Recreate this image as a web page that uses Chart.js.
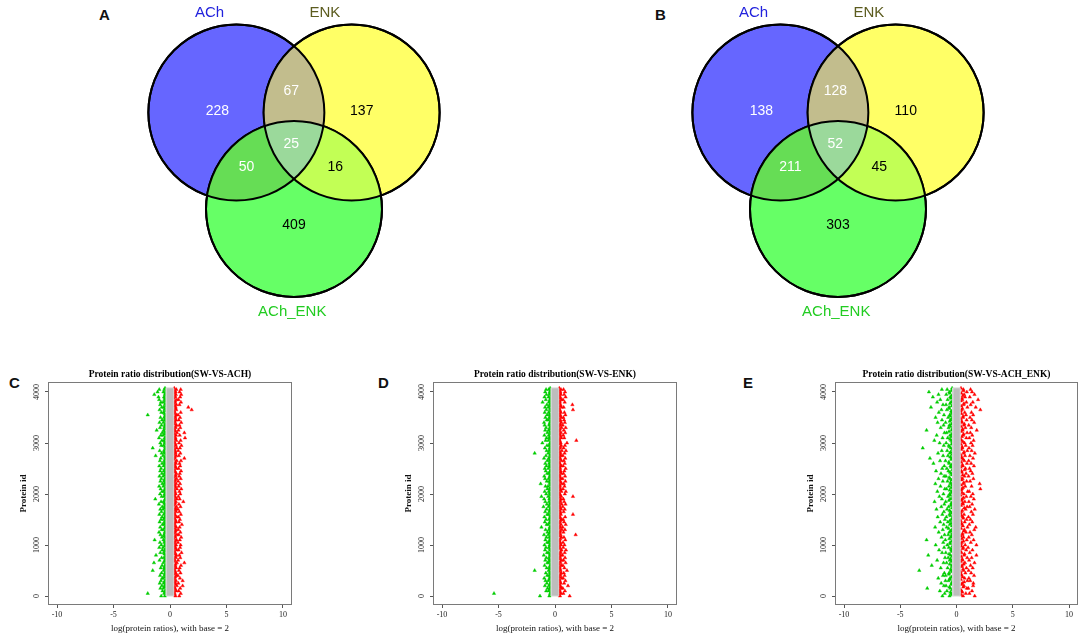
<!DOCTYPE html>
<html><head><meta charset="utf-8">
<script src="https://cdn.jsdelivr.net/npm/chart.js@4.4.1/dist/chart.umd.min.js"></script>
<style>
html,body{margin:0;padding:0;background:#fff}
body{width:1084px;height:640px;overflow:hidden;position:relative;font-family:"Liberation Sans",Arial,sans-serif}
.box{position:absolute}
.lab{position:absolute;font-weight:bold;font-size:15px;line-height:15px;color:#111}
</style></head>
<body>
<div class="lab" style="left:99px;top:7px">A</div>
<div class="lab" style="left:655px;top:7px">B</div>
<div class="lab" style="left:9px;top:375px">C</div>
<div class="lab" style="left:378px;top:375px">D</div>
<div class="lab" style="left:743px;top:375px">E</div>
<div class="box" style="left:104px;top:0;width:380px;height:330px"><canvas id="vennA"></canvas></div>
<div class="box" style="left:648px;top:0;width:380px;height:330px"><canvas id="vennB"></canvas></div>
<div class="box" style="left:0;top:360px;width:360px;height:280px"><canvas id="scC"></canvas></div>
<div class="box" style="left:360px;top:360px;width:360px;height:280px"><canvas id="scD"></canvas></div>
<div class="box" style="left:720px;top:360px;width:364px;height:280px"><canvas id="scE"></canvas></div>
<script>
// ---------------- Venn data ----------------
const setNames = ['ACh', 'ENK', 'ACh_ENK'];
const setCenterX = [-0.655, 0.655, 0.0];
const setCenterY = [0.365, 0.365, -0.73];
const setRadius = [1, 1, 1];
// regions: ACh only, ACh&ENK, ENK only, all three, ACh&ACh_ENK, ENK&ACh_ENK, ACh_ENK only
const countsA = [228, 67, 137, 25, 50, 16, 409];
const countsB = [138, 128, 110, 52, 211, 45, 303];

// ---------------- Scatter data ----------------
const proteinIds = [0,50,100,150,200,250,300,350,400,450,500,550,600,650,700,750,800,850,900,950,1000,1050,1100,1150,1200,1250,1300,1350,1400,1450,1500,1550,1600,1650,1700,1750,1800,1850,1900,1950,2000,2050,2100,2150,2200,2250,2300,2350,2400,2450,2500,2550,2600,2650,2700,2750,2800,2850,2900,2950,3000,3050,3100,3150,3200,3250,3300,3350,3400,3450,3500,3550,3600,3650,3700,3750,3800,3850,3900,3950,4000,4050];
const proteinIdsMid = [25,75,125,175,225,275,325,375,425,475,525,575,625,675,725,775,825,875,925,975,1025,1075,1125,1175,1225,1275,1325,1375,1425,1475,1525,1575,1625,1675,1725,1775,1825,1875,1925,1975,2025,2075,2125,2175,2225,2275,2325,2375,2425,2475,2525,2575,2625,2675,2725,2775,2825,2875,2925,2975,3025,3075,3125,3175,3225,3275,3325,3375,3425,3475,3525,3575,3625,3675,3725,3775,3825,3875,3925,3975,4025,4075];
const xTicks = [-10, -5, 0, 5, 10];
const yTicks = [0, 1000, 2000, 3000, 4000];
const bandLow = -0.33, bandHigh = 0.33, bandIdMax = 4080;

// SW-VS-ACH
const achDownEdge = [
-0.38,-0.44,-0.36,-0.47,-0.40,-0.50,-0.37,-0.43,-0.46,-0.39,
-0.42,-0.48,-0.36,-0.45,-0.41,-0.38,-0.49,-0.43,-0.37,-0.46,
-0.40,-0.44,-0.38,-0.50,-0.42,-0.36,-0.47,-0.39,-0.45,-0.41,
-0.48,-0.37,-0.43,-0.40,-0.46,-0.38,-0.50,-0.42,-0.36,-0.44,
-0.39,-0.47,-0.41,-0.37,-0.45,-0.49,-0.38,-0.43,-0.40,-0.46,
-0.36,-0.42,-0.48,-0.39,-0.44,-0.37,-0.50,-0.41,-0.45,-0.38,
-0.47,-0.40,-0.36,-0.43,-0.49,-0.39,-0.46,-0.42,-0.37,-0.44,
-0.41,-0.48,-0.38,-0.45,-0.36,-0.43,-0.40,-0.47,-0.39,-0.42,
-0.37,-0.44];
const achDownInner = [
-0.45,-0.52,-0.41,-0.58,-0.47,-0.55,-0.43,-0.61,-0.49,-0.44,
-0.57,-0.50,-0.42,-0.59,-0.46,-0.53,-0.40,-0.56,-0.48,-0.62,
-0.44,-0.51,-0.58,-0.43,-0.54,-0.47,-0.60,-0.41,-0.52,-0.49,
-0.57,-0.45,-0.55,-0.42,-0.61,-0.50,-0.46,-0.58,-0.43,-0.53,
-0.48,-0.56,-0.41,-0.59,-0.47,-0.52,-0.44,-0.60,-0.49,-0.55,
-0.42,-0.57,-0.46,-0.51,-0.43,-0.62,-0.48,-0.54,-0.40,-0.58,
-0.45,-0.53,-0.47,-0.60,-0.42,-0.56,-0.50,-0.44,-0.59,-0.46,
-0.52,-0.41,-0.57,-0.49,-0.55,-0.43,-0.61,-0.47,-0.53,-0.45,
-0.58,-0.50];
const achDownOuter = [
-0.78,-1.97,-0.66,-0.85,-0.72,-0.91,-0.80,-0.69,-0.88,-0.75,
-1.53,-0.82,-0.70,-1.42,-0.93,-0.74,-1.24,-0.86,-0.68,-0.95,
-0.77,-0.89,-1.36,-0.71,-0.84,-0.97,-0.73,-0.87,-0.67,-0.92,
-0.80,-0.70,-0.94,-0.76,-0.86,-0.69,-0.98,-0.79,-1.30,-0.74,
-0.88,-0.71,-0.83,-0.96,-0.68,-0.85,-0.77,-0.93,-0.72,-0.87,
-0.79,-0.95,-0.70,-0.89,-0.82,-1.27,-0.74,-0.91,-1.53,-0.78,
-0.86,-0.72,-0.97,-0.81,-0.69,-1.18,-0.88,-0.75,-0.93,-0.70,
-0.84,-1.97,-0.77,-0.92,-0.73,-0.87,-0.80,-0.96,-1.02,-1.39,
-1.10,-0.95];
const achUpEdge = [
0.40,0.36,0.45,0.38,0.48,0.42,0.37,0.46,0.39,0.44,
0.36,0.43,0.49,0.40,0.37,0.47,0.41,0.38,0.45,0.42,
0.39,0.46,0.36,0.44,0.40,0.48,0.37,0.43,0.41,0.50,
0.38,0.45,0.39,0.42,0.47,0.36,0.44,0.40,0.48,0.37,
0.43,0.39,0.46,0.41,0.36,0.45,0.38,0.49,0.42,0.37,
0.44,0.40,0.47,0.36,0.43,0.39,0.46,0.41,0.38,0.48,
0.37,0.45,0.42,0.39,0.44,0.36,0.47,0.40,0.43,0.38,
0.46,0.41,0.37,0.48,0.42,0.39,0.45,0.36,0.44,0.40,
0.43,0.38];
const achUpInner = [
0.48,0.41,0.56,0.44,0.60,0.47,0.53,0.40,0.58,0.50,
0.43,0.55,0.46,0.61,0.42,0.52,0.57,0.45,0.59,0.49,
0.54,0.41,0.58,0.47,0.62,0.44,0.51,0.56,0.40,0.53,
0.46,0.60,0.43,0.55,0.49,0.57,0.42,0.52,0.59,0.45,
0.50,0.44,0.61,0.47,0.54,0.41,0.58,0.48,0.56,0.43,
0.57,0.46,0.52,0.60,0.42,0.55,0.49,0.44,0.59,0.51,
0.41,0.56,0.48,0.53,0.62,0.45,0.50,0.58,0.43,0.54,
0.47,0.59,0.42,0.55,0.50,0.57,0.44,0.61,0.46,0.52,
0.49,0.56];
const achUpOuter = [
0.82,0.95,0.77,0.90,1.12,0.74,1.12,0.88,0.70,0.93,
0.79,0.86,0.97,1.27,0.72,0.91,0.83,1.02,0.76,0.89,
0.94,0.71,0.87,0.99,0.78,0.92,0.73,0.85,1.05,0.80,
0.88,0.75,0.96,0.82,0.70,0.93,0.79,1.18,0.86,0.74,
0.91,0.83,1.00,0.77,0.89,0.72,0.95,0.81,0.87,0.98,
0.76,0.90,0.84,0.97,1.27,0.79,0.92,0.73,0.88,1.01,
0.80,0.94,1.33,0.86,1.27,0.75,0.91,0.83,0.99,0.78,
0.89,0.72,0.95,1.92,1.62,0.84,0.97,0.76,0.90,0.99,
0.85,0.95];

// SW-VS-ENK
const enkDownEdge = [
-0.41,-0.37,-0.46,-0.39,-0.44,-0.36,-0.48,-0.42,-0.38,-0.45,
-0.40,-0.47,-0.37,-0.43,-0.49,-0.39,-0.44,-0.36,-0.46,-0.41,
-0.38,-0.45,-0.42,-0.37,-0.48,-0.40,-0.43,-0.36,-0.47,-0.39,
-0.44,-0.41,-0.37,-0.46,-0.38,-0.50,-0.42,-0.36,-0.45,-0.40,
-0.47,-0.38,-0.43,-0.39,-0.46,-0.37,-0.44,-0.41,-0.48,-0.36,
-0.42,-0.45,-0.38,-0.49,-0.40,-0.43,-0.37,-0.46,-0.39,-0.44,
-0.36,-0.41,-0.47,-0.38,-0.45,-0.42,-0.37,-0.48,-0.40,-0.43,
-0.39,-0.46,-0.36,-0.44,-0.41,-0.38,-0.47,-0.42,-0.37,-0.45,
-0.40,-0.43];
const enkDownInner = [
-0.50,-0.43,-0.57,-0.46,-0.54,-0.40,-0.59,-0.48,-0.52,-0.44,
-0.56,-0.47,-0.41,-0.58,-0.49,-0.53,-0.45,-0.60,-0.42,-0.55,
-0.48,-0.57,-0.44,-0.51,-0.59,-0.43,-0.54,-0.47,-0.61,-0.46,
-0.52,-0.41,-0.58,-0.49,-0.45,-0.56,-0.42,-0.53,-0.50,-0.60,
-0.44,-0.55,-0.47,-0.62,-0.43,-0.51,-0.57,-0.46,-0.54,-0.41,
-0.59,-0.48,-0.52,-0.45,-0.56,-0.42,-0.60,-0.50,-0.47,-0.53,
-0.43,-0.58,-0.49,-0.55,-0.41,-0.57,-0.46,-0.52,-0.44,-0.61,
-0.51,-0.45,-0.56,-0.42,-0.59,-0.48,-0.54,-0.43,-0.57,-0.50,
-0.47,-0.55];
const enkDownOuter = [
-1.33,-5.40,-0.78,-0.66,-0.89,-0.72,-0.84,-0.95,-0.69,-0.81,
-1.80,-0.74,-0.92,-0.68,-0.86,-0.77,-0.99,-0.71,-0.88,-0.80,
-0.93,-0.70,-0.85,-0.76,-0.97,-0.67,-0.83,-1.20,-0.74,-0.90,
-0.79,-0.94,-0.69,-0.87,-0.75,-1.02,-0.72,-0.86,-0.96,-1.20,
-0.78,-0.91,-0.68,-0.84,-1.27,-0.73,-0.88,-0.95,-0.70,-0.82,
-0.90,-0.76,-0.86,-0.69,-0.97,-0.80,-1.80,-0.74,-0.89,-0.71,
-1.12,-0.83,-0.75,-0.94,-0.68,-0.87,-0.79,-0.92,-0.97,-0.73,
-0.85,-0.70,-0.91,-0.77,-0.88,-0.72,-1.10,-0.81,-0.93,-0.76,
-0.87,-0.79];
const enkUpEdge = [
0.37,0.43,0.40,0.47,0.36,0.44,0.39,0.42,0.48,0.38,
0.45,0.41,0.37,0.46,0.40,0.43,0.36,0.49,0.42,0.39,
0.44,0.38,0.47,0.41,0.36,0.45,0.40,0.43,0.37,0.48,
0.42,0.39,0.46,0.36,0.44,0.41,0.38,0.47,0.40,0.43,
0.37,0.45,0.39,0.42,0.48,0.36,0.44,0.40,0.46,0.38,
0.41,0.47,0.37,0.43,0.39,0.45,0.42,0.36,0.48,0.40,
0.44,0.38,0.46,0.41,0.37,0.43,0.39,0.47,0.42,0.36,
0.45,0.40,0.44,0.38,0.46,0.37,0.41,0.43,0.39,0.47,
0.42,0.38];
const enkUpInner = [
0.44,0.53,0.40,0.57,0.47,0.51,0.42,0.59,0.46,0.55,
0.49,0.41,0.56,0.45,0.60,0.43,0.52,0.48,0.58,0.42,
0.54,0.47,0.40,0.57,0.50,0.44,0.61,0.46,0.53,0.41,
0.58,0.43,0.52,0.48,0.55,0.40,0.59,0.45,0.51,0.56,
0.42,0.57,0.49,0.44,0.60,0.47,0.53,0.41,0.56,0.50,
0.46,0.54,0.41,0.58,0.45,0.52,0.48,0.61,0.43,0.55,
0.50,0.42,0.57,0.47,0.53,0.40,0.59,0.44,0.56,0.48,
0.55,0.46,0.52,0.41,0.58,0.49,0.43,0.57,0.45,0.51,
0.47,0.53];
const enkUpOuter = [
1.30,0.74,0.88,0.69,1.15,0.81,0.92,0.72,0.85,0.78,
1.06,0.83,0.70,0.94,0.76,0.89,0.67,0.86,0.97,0.73,
0.84,0.71,0.91,0.79,1.83,0.75,0.88,0.68,0.95,0.80,
0.72,0.90,1.59,0.77,0.86,0.69,0.93,0.81,0.74,1.59,
0.87,0.96,0.71,0.84,0.78,0.92,0.68,0.89,0.75,0.83,
0.94,0.72,0.86,0.79,0.91,0.70,0.85,0.97,0.76,0.88,
1.06,1.89,0.82,0.73,0.90,0.78,0.95,0.69,0.87,0.80,
0.74,0.92,0.83,1.59,0.77,1.54,0.86,0.71,0.94,0.81,
0.89,0.76];

// SW-VS-ACH_ENK
const bothDownEdge = [
-0.42,-0.55,-0.38,-0.63,-0.47,-0.36,-0.58,-0.44,-0.68,-0.40,
-0.51,-0.37,-0.60,-0.45,-0.53,-0.39,-0.66,-0.43,-0.49,-0.36,
-0.57,-0.41,-0.64,-0.46,-0.38,-0.52,-0.70,-0.40,-0.48,-0.59,
-0.37,-0.54,-0.43,-0.62,-0.39,-0.50,-0.45,-0.67,-0.36,-0.56,
-0.41,-0.61,-0.47,-0.38,-0.53,-0.44,-0.65,-0.40,-0.58,-0.37,
-0.49,-0.42,-0.69,-0.46,-0.55,-0.39,-0.51,-0.36,-0.63,-0.44,
-0.38,-0.57,-0.48,-0.41,-0.66,-0.37,-0.52,-0.45,-0.60,-0.40,
-0.54,-0.39,-0.47,-0.64,-0.42,-0.58,-0.36,-0.50,-0.43,-0.61,
-0.46,-0.39];
const bothDownInner = [
-0.62,-0.48,-0.85,-0.55,-0.93,-0.44,-0.71,-0.58,-0.97,-0.66,
-0.50,-0.79,-0.42,-0.88,-0.60,-0.74,-0.53,-0.95,-0.46,-0.68,
-0.82,-0.57,-0.99,-0.49,-0.73,-0.64,-0.41,-0.87,-0.59,-0.77,
-0.45,-0.90,-0.63,-0.52,-0.84,-0.70,-0.47,-0.96,-0.56,-0.75,
-0.61,-0.43,-0.89,-0.67,-0.51,-0.80,-0.58,-0.94,-0.48,-0.72,
-0.86,-0.54,-0.65,-0.98,-0.44,-0.76,-0.60,-0.83,-0.50,-0.69,
-0.92,-0.47,-0.78,-0.57,-0.88,-0.42,-0.70,-0.63,-0.97,-0.53,
-0.74,-0.60,-0.45,-0.85,-0.66,-0.93,-0.49,-0.79,-0.56,-0.91,
-0.64,-0.83];
const bothDownOuter = [
-1.25,-1.05,-1.48,-2.60,-1.12,-1.36,-0.98,-1.62,-1.20,-1.08,
-3.31,-1.40,-2.20,-1.15,-1.72,-1.02,-2.51,-1.28,-1.55,-1.10,
-1.85,-1.18,-2.66,-1.33,-1.06,-1.58,-1.22,-1.90,-1.14,-1.45,
-1.03,-1.67,-1.26,-1.12,-1.78,-1.35,-1.08,-1.95,-1.30,-1.52,
-1.16,-1.70,-1.04,-1.42,-1.88,-1.21,-1.60,-1.10,-1.38,-1.82,
-1.27,-1.09,-2.05,-1.46,-2.36,-1.19,-1.64,-1.31,-3.00,-1.13,
-1.50,-1.97,-1.24,-1.76,-1.07,-2.66,-1.40,-1.15,-1.68,-1.29,
-1.86,-1.11,-1.57,-1.34,-2.27,-1.20,-1.72,-1.44,-2.10,-1.60,
-2.45,-1.30];
const bothUpEdge = [
0.40,0.52,0.37,0.61,0.45,0.68,0.39,0.55,0.43,0.36,
0.58,0.47,0.64,0.38,0.50,0.42,0.71,0.36,0.56,0.44,
0.39,0.62,0.48,0.37,0.53,0.66,0.41,0.57,0.45,0.38,
0.60,0.43,0.36,0.51,0.69,0.40,0.54,0.46,0.63,0.37,
0.49,0.42,0.58,0.39,0.65,0.44,0.36,0.55,0.47,0.72,
0.38,0.52,0.41,0.60,0.45,0.37,0.67,0.43,0.50,0.39,
0.57,0.36,0.48,0.63,0.42,0.54,0.40,0.70,0.46,0.38,
0.59,0.44,0.37,0.53,0.41,0.66,0.39,0.49,0.56,0.43,
0.62,0.40];
const bothUpInner = [
0.58,0.83,0.45,0.92,0.66,0.51,0.97,0.72,0.42,0.79,
0.63,0.88,0.49,0.75,0.55,0.95,0.68,0.44,0.86,0.60,
0.77,0.47,0.91,0.62,0.53,0.84,0.70,0.98,0.46,0.73,
0.89,0.56,0.67,0.43,0.81,0.94,0.59,0.74,0.50,0.87,
0.65,0.99,0.48,0.78,0.61,0.90,0.54,0.71,0.85,0.44,
0.80,0.57,0.93,0.69,0.47,0.76,0.64,0.96,0.52,0.82,
0.71,0.45,0.87,0.60,0.94,0.55,0.79,0.66,0.49,0.90,
0.58,0.84,0.73,0.46,0.97,0.63,0.88,0.51,0.76,0.68,
0.92,0.61];
const bothUpOuter = [
1.62,1.15,1.38,1.05,1.48,1.50,1.22,1.10,1.56,1.30,
1.08,1.44,1.25,1.60,1.12,1.35,1.77,1.18,1.42,1.03,
1.77,1.27,1.52,1.09,1.36,1.20,1.58,1.71,1.14,1.40,
1.24,1.06,1.46,1.32,1.62,1.17,1.39,1.10,1.54,1.28,
1.45,1.13,2.12,1.34,2.06,1.21,1.50,1.07,1.41,1.26,
1.16,1.55,1.30,1.08,1.47,1.19,1.63,1.35,1.11,1.43,
1.29,1.52,1.14,1.40,1.23,1.80,1.31,1.09,1.57,1.37,
1.20,1.48,1.33,2.12,1.71,1.26,1.45,1.92,1.18,1.60,
1.38,1.25];

// ---------------- Venn drawing ----------------
const vennFill = ['#6666ff', '#ffff66', '#66ff66'];
const vennOverlap = { ab: '#c2bd8d', ac: '#66dd55', bc: '#c2ff55', abc: '#9bd99b' };
const setTitleColor = ['#2222dd', '#5c5c1f', '#22cc22'];
const setTitlePos = { x: [-0.96, 0.35, -0.02], y: [1.50, 1.50, -1.90] };
const regionPos = { x: [-0.87, -0.03, 0.77, -0.03, -0.54, 0.47, 0.0], y: [0.38, 0.61, 0.38, 0.01, -0.25, -0.25, -0.92] };
const regionTextColor = ['#ffffff', '#ffffff', '#000000', '#ffffff', '#ffffff', '#000000', '#000000'];

function radiusPx(chart, r) {
  const s = chart.scales.x;
  return Math.abs(s.getPixelForValue(r) - s.getPixelForValue(0));
}

const vennPlugin = {
  id: 'vennRegions',
  afterDatasetsDraw(chart) {
    const ctx = chart.ctx;
    const els = chart.getDatasetMeta(0).data;
    const xs = chart.scales.x, ys = chart.scales.y;
    const clip = i => { ctx.beginPath(); ctx.arc(els[i].x, els[i].y, radiusPx(chart, setRadius[i]), 0, Math.PI * 2); ctx.clip(); };
    const fillAll = c => { ctx.fillStyle = c; ctx.fillRect(0, 0, chart.width, chart.height); };
    [[0, 1, vennOverlap.ab], [0, 2, vennOverlap.ac], [1, 2, vennOverlap.bc]].forEach(([i, j, c]) => {
      ctx.save(); clip(i); clip(j); fillAll(c); ctx.restore();
    });
    ctx.save(); clip(0); clip(1); clip(2); fillAll(vennOverlap.abc); ctx.restore();
    ctx.save();
    ctx.lineWidth = 2; ctx.strokeStyle = '#000';
    els.forEach((e, i) => { ctx.beginPath(); ctx.arc(e.x, e.y, radiusPx(chart, setRadius[i]), 0, Math.PI * 2); ctx.stroke(); });
    ctx.textAlign = 'center'; ctx.textBaseline = 'middle';
    ctx.font = '15px "Liberation Sans", Arial, sans-serif';
    setNames.forEach((n, i) => {
      ctx.fillStyle = setTitleColor[i];
      ctx.fillText(n, xs.getPixelForValue(setTitlePos.x[i]), ys.getPixelForValue(setTitlePos.y[i]));
    });
    ctx.font = '14px "Liberation Sans", Arial, sans-serif';
    const counts = chart.options.plugins.vennRegions.counts;
    counts.forEach((v, i) => {
      ctx.fillStyle = regionTextColor[i];
      ctx.fillText(String(v), xs.getPixelForValue(regionPos.x[i]), ys.getPixelForValue(regionPos.y[i]));
    });
    ctx.restore();
  }
};

function makeVenn(id, counts) {
  new Chart(document.getElementById(id), {
    type: 'scatter',
    data: { datasets: [{
      data: setNames.map((n, i) => ({ x: setCenterX[i], y: setCenterY[i] })),
      pointRadius: c => radiusPx(c.chart, setRadius[c.dataIndex]),
      pointBackgroundColor: vennFill,
      pointBorderColor: '#000',
      pointBorderWidth: 2,
      clip: false
    }]},
    options: {
      responsive: true, maintainAspectRatio: false, animation: false, events: [],
      layout: { padding: 0 },
      scales: {
        x: { type: 'linear', min: -2.159, max: 2.159, display: false },
        y: { type: 'linear', min: -2.106, max: 1.644, display: false }
      },
      plugins: { legend: { display: false }, tooltip: { enabled: false }, vennRegions: { counts } }
    },
    plugins: [vennPlugin]
  });
}
makeVenn('vennA', countsA);
makeVenn('vennB', countsB);

// ---------------- Scatter panels ----------------
const framePlugin = {
  id: 'frame',
  afterDraw(chart) {
    const { ctx, chartArea: a } = chart;
    ctx.save();
    ctx.strokeStyle = '#7a7a7a'; ctx.lineWidth = 1;
    ctx.strokeRect(Math.round(a.left) + 0.5, Math.round(a.top) + 0.5, Math.round(a.right - a.left) - 1, Math.round(a.bottom - a.top) - 1);
    ctx.restore();
  }
};

const serif = '"Liberation Serif", "Times New Roman", serif';

function makeScatter(id, title, gEdge, gIn, gOut, rEdge, rIn, rOut, padL, padR) {
  const pts = (arr, ids) => arr.map((x, i) => ({ x: x, y: ids[i] }));
  const tri = (data, ids, color, order) => ({
    data: pts(data, ids), pointStyle: 'triangle', pointRadius: 2,
    pointBackgroundColor: color, pointBorderColor: color, pointBorderWidth: 0.4, order: order
  });
  new Chart(document.getElementById(id), {
    type: 'scatter',
    data: { datasets: [
      { type: 'line', data: [{x: bandLow, y: 0}, {x: bandHigh, y: 0}, {x: bandHigh, y: bandIdMax}, {x: bandLow, y: bandIdMax}, {x: bandLow, y: 0}],
        fill: 'shape', backgroundColor: '#bdbdbd', borderColor: '#d6d6d6', borderWidth: 1, pointRadius: 0, tension: 0, order: 0 },
      tri(gEdge, proteinIdsMid, '#00cd00', 1), tri(gIn, proteinIds, '#00cd00', 2), tri(gOut, proteinIds, '#00cd00', 3),
      tri(rEdge, proteinIdsMid, '#ff0000', 1), tri(rIn, proteinIds, '#ff0000', 2), tri(rOut, proteinIds, '#ff0000', 3)
    ]},
    options: {
      responsive: true, maintainAspectRatio: false, animation: false, events: [],
      layout: { padding: { left: padL, right: padR, top: 0, bottom: 0 } },
      scales: {
        x: {
          type: 'linear', min: -10.8, max: 10.8,
          afterFit: s => { s.height = 35; },
          afterBuildTicks: s => { s.ticks = xTicks.map(v => ({ value: v })); },
          ticks: { font: { family: serif, size: 8 }, color: '#222', padding: 2, callback: v => String(v) },
          grid: { drawOnChartArea: false, drawTicks: true, tickLength: 3, color: '#555' },
          border: { display: false },
          title: { display: true, text: 'log(protein ratios), with base = 2', font: { family: serif, size: 9 }, color: '#111', padding: { top: 0, bottom: 5.6 } }
        },
        y: {
          type: 'linear', min: -176, max: 4196,
          afterFit: s => { s.width = 48; },
          afterBuildTicks: s => { s.ticks = yTicks.map(v => ({ value: v })); },
          ticks: { font: { family: serif, size: 8 }, color: '#222', padding: 0, minRotation: 90, maxRotation: 90, crossAlign: 'center', callback: v => String(v) },
          grid: { drawOnChartArea: false, drawTicks: true, tickLength: 3, color: '#555' },
          border: { display: false },
          title: { display: true, text: 'Protein id', font: { family: serif, size: 9, weight: 'bold' }, color: '#111', padding: { top: 18.6, bottom: 0 } }
        }
      },
      plugins: {
        legend: { display: false }, tooltip: { enabled: false },
        title: { display: true, text: title, fullSize: false, color: '#000', font: { family: serif, size: 9.5, weight: 'bold' }, padding: { top: 9.3, bottom: 1.3 } }
      }
    },
    plugins: [framePlugin]
  });
}
makeScatter('scC', 'Protein ratio distribution(SW-VS-ACH)', achDownEdge, achDownInner, achDownOuter, achUpEdge, achUpInner, achUpOuter, 0, 68);
makeScatter('scD', 'Protein ratio distribution(SW-VS-ENK)', enkDownEdge, enkDownInner, enkDownOuter, enkUpEdge, enkUpInner, enkUpOuter, 25, 43);
makeScatter('scE', 'Protein ratio distribution(SW-VS-ACH_ENK)', bothDownEdge, bothDownInner, bothDownOuter, bothUpEdge, bothUpInner, bothUpOuter, 67, 6);
</script>
</body></html>
